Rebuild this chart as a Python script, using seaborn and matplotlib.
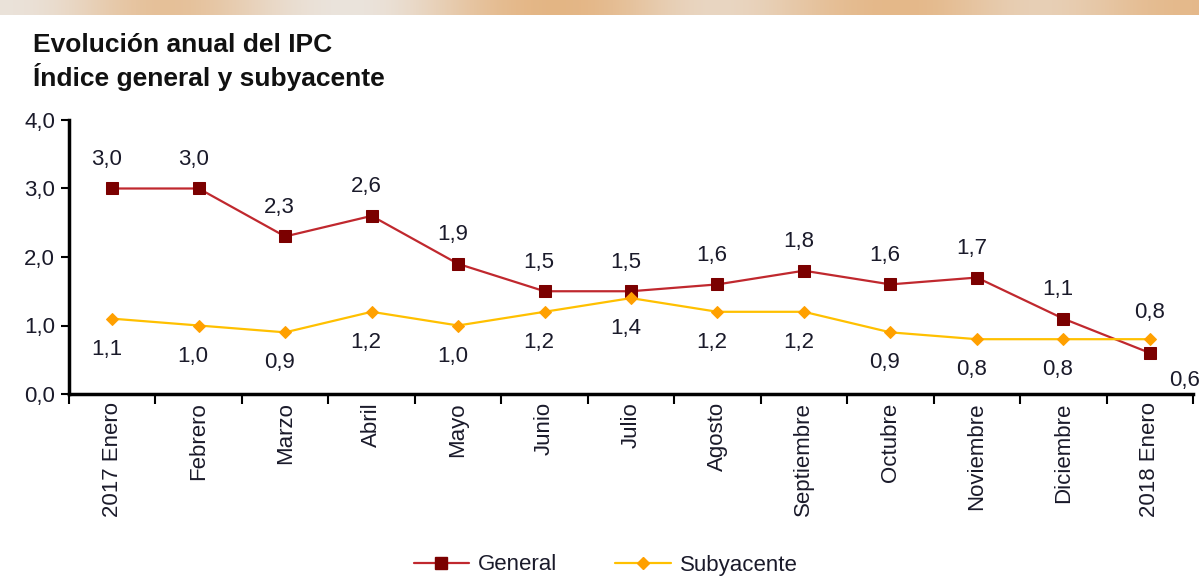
import numpy as np
import pandas as pd
import seaborn as sns
import matplotlib.pyplot as plt
from matplotlib.lines import Line2D

meses = ["2017 Enero", "Febrero", "Marzo", "Abril", "Mayo", "Junio", "Julio",
         "Agosto", "Septiembre", "Octubre", "Noviembre", "Diciembre", "2018 Enero"]
general = [3.0, 3.0, 2.3, 2.6, 1.9, 1.5, 1.5, 1.6, 1.8, 1.6, 1.7, 1.1, 0.6]
subyacente = [1.1, 1.0, 0.9, 1.2, 1.0, 1.2, 1.4, 1.2, 1.2, 0.9, 0.8, 0.8, 0.8]
yticks = [0.0, 1.0, 2.0, 3.0, 4.0]

sns.set_style("white")
plt.rcParams['font.family'] = ['Liberation Sans', 'DejaVu Sans']

df = pd.DataFrame({"pos": np.arange(len(meses)), "General": general, "Subyacente": subyacente})

fig = plt.figure(figsize=(11.99, 5.86), dpi=100)

# orange band at the top
band = fig.add_axes([0, 1 - 15 / 586, 1, 15 / 586])
grad = np.array([[0.2, 0.9, 0.3, 0.1, 0.8, 0.9, 0.2, 0.7, 0.9, 0.3, 0.8]])
band.imshow(grad, aspect="auto", cmap=sns.blend_palette(["#ECECEC", "#E3B07A"], as_cmap=True),
            interpolation="bicubic")
band.axis("off")

ax = fig.add_axes([69 / 1199, 1 - 394 / 586, (1193 - 69) / 1199, (394 - 120) / 586])

red_line = "#C0282E"
red_mk = "#7B0000"
yel_line = "#FFC000"
yel_mk = "#FFA000"
txt = "#1A1A2A"

sns.lineplot(data=df, x="pos", y="General", ax=ax, color=red_line, lw=1.6,
             marker="s", markersize=8, markerfacecolor=red_mk, markeredgecolor=red_mk)
sns.lineplot(data=df, x="pos", y="Subyacente", ax=ax, color=yel_line, lw=1.6,
             marker="D", markersize=6, markerfacecolor=yel_mk, markeredgecolor=yel_mk)

fmt = lambda v: f"{v:.1f}".replace(".", ",")
n = len(meses)
for i, (g, s) in enumerate(zip(general, subyacente)):
    if i == n - 1:
        ax.annotate(fmt(g), (i, g), xytext=(14, -20), textcoords="offset points",
                    ha="left", va="center", fontsize=16, color=txt)
        ax.annotate(fmt(s), (i, s), xytext=(0, 19), textcoords="offset points",
                    ha="center", va="center", fontsize=16, color=txt)
    else:
        ax.annotate(fmt(g), (i, g), xytext=(-4, 21), textcoords="offset points",
                    ha="center", va="center", fontsize=16, color=txt)
        ax.annotate(fmt(s), (i, s), xytext=(-4, -22), textcoords="offset points",
                    ha="center", va="center", fontsize=16, color=txt)

ax.set_xlim(-0.5, n - 0.5)
ax.set_ylim(0, 4)
ax.set_yticks(yticks)
ax.set_yticklabels([fmt(v) for v in yticks], fontsize=16, color=txt)
ax.set_xticks(np.arange(n))
ax.set_xticklabels(meses, rotation=90, fontsize=16, color=txt)
ax.set_xticks(np.arange(n + 1) - 0.5, minor=True)
ax.tick_params(axis="x", which="major", bottom=False, length=0, pad=6)
ax.tick_params(axis="x", which="minor", bottom=True, length=7, width=1.5, direction="out", color="black")
ax.tick_params(axis="y", left=True, length=6, width=1.5, direction="out", color="black", pad=4)
ax.set_xlabel("")
ax.set_ylabel("")
for side in ["top", "right"]:
    ax.spines[side].set_visible(False)
for side in ["left", "bottom"]:
    ax.spines[side].set_color("black")
    ax.spines[side].set_linewidth(2.5)

fig.text(33 / 1199, 1 - 45 / 586, "Evolución anual del IPC", fontsize=19, fontweight="bold",
         va="center", color="#111111")
fig.text(33 / 1199, 1 - 77 / 586, "Índice general y subyacente", fontsize=19, fontweight="bold",
         va="center", color="#111111")

handles = [
    Line2D([], [], color=red_line, lw=1.6, marker="s", markersize=8,
           markerfacecolor=red_mk, markeredgecolor=red_mk),
    Line2D([], [], color=yel_line, lw=1.6, marker="D", markersize=6,
           markerfacecolor=yel_mk, markeredgecolor=yel_mk),
]
fig.legend(handles, ["General", "Subyacente"], loc="center", bbox_to_anchor=(0.505, 1 - 565 / 586),
           ncol=2, frameon=False, fontsize=16, handlelength=2.5, handletextpad=0.4,
           columnspacing=2.6, labelcolor=txt)

fig.savefig("out.png", dpi=100)
